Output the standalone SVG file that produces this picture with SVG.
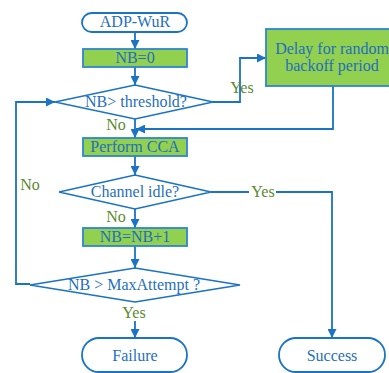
<svg xmlns="http://www.w3.org/2000/svg" width="389" height="373" viewBox="0 0 389 373">
<defs>
<marker id="ah" viewBox="0 0 10 10" refX="10" refY="5" markerWidth="5" markerHeight="5" orient="auto" markerUnits="strokeWidth">
<path d="M0,0 L10,5 L0,10 z" fill="#1a73c4"/>
</marker>
<style>
.term{fill:#fff;stroke:#1a73c4;stroke-width:1.8}
.box{fill:#92d050;stroke:#2e86cf;stroke-width:1.8}
.dia{fill:#fff;stroke:#1a73c4;stroke-width:1.6}
.t{font-family:"Liberation Serif","Times New Roman",serif;font-size:16px;fill:#1f6fbf;text-anchor:middle}
.lbl{font-family:"Liberation Serif","Times New Roman",serif;font-size:16px;fill:#5a8a2e;text-anchor:middle}
.ln{fill:none;stroke:#1a73c4;stroke-width:1.8}
.la{fill:none;stroke:#1a73c4;stroke-width:1.8;marker-end:url(#ah)}
</style>
</defs>
<rect width="389" height="373" fill="#fff"/>
<g id="connectors">
<path class="la" d="M135,32 V49"/>
<path class="la" d="M135,67 V85"/>
<path class="la" d="M213,102 H240 V58 H266"/>
<path class="la" d="M135,119 V138"/>
<path class="la" d="M333,86 V129 H136"/>
<path class="la" d="M135,156 V175"/>
<path class="ln" d="M211,192 H249"/>
<path class="la" d="M276,192 H332 V338"/>
<path class="la" d="M135,209 V228"/>
<path class="la" d="M135,246 V268"/>
<path class="la" d="M30,284 H16 V102 H55"/>
<path class="la" d="M135,321 V338"/>
</g>
<g id="n-start"><rect class="term" x="82" y="13" width="105" height="19" rx="9.5"/><text class="t" x="135" y="27">ADP-WuR</text></g>
<g id="n-nb0"><rect class="box" x="83" y="49" width="104" height="18"/><text class="t" x="135" y="63">NB=0</text></g>
<g id="n-thr"><polygon class="dia" points="135,85 213,102 135,119 55,102"/><text class="t" x="136" y="107">NB&gt; threshold?</text></g>
<g id="n-delay"><rect class="box" x="266" y="29" width="132" height="57"/><text class="t" x="332" y="54">Delay for random</text><text class="t" x="332" y="71">backoff period</text></g>
<g id="n-cca"><rect class="box" x="83" y="138" width="104" height="18"/><text class="t" x="135" y="152">Perform CCA</text></g>
<g id="n-idle"><polygon class="dia" points="135,175 211,192 135,209 59,192"/><text class="t" x="135" y="197">Channel idle?</text></g>
<g id="n-inc"><rect class="box" x="83" y="228" width="104" height="18"/><text class="t" x="135" y="242">NB=NB+1</text></g>
<g id="n-max"><polygon class="dia" points="135,268 240,285 135,302 30,285"/><text class="t" x="134" y="290">NB &gt; MaxAttempt ?</text></g>
<g id="n-fail"><rect class="term" x="82" y="338" width="105" height="34" rx="17"/><text class="t" x="135" y="361">Failure</text></g>
<g id="n-succ"><rect class="term" x="279" y="338" width="106" height="34" rx="17"/><text class="t" x="332" y="361">Success</text></g>
<g id="labels">
<text class="lbl" x="242" y="93">Yes</text>
<text class="lbl" x="116" y="130">No</text>
<text class="lbl" x="30" y="190">No</text>
<text class="lbl" x="263" y="197">Yes</text>
<text class="lbl" x="116" y="222">No</text>
<text class="lbl" x="134" y="318">Yes</text>
</g>
</svg>
